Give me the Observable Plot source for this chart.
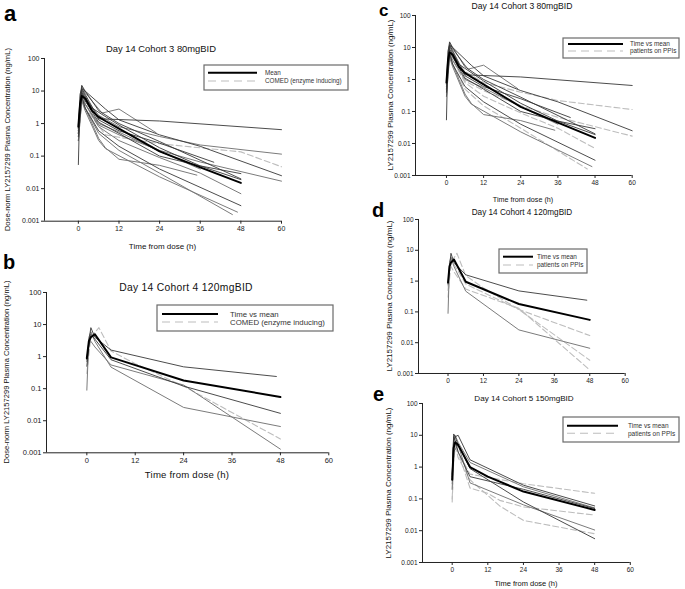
<!DOCTYPE html>
<html><head><meta charset="utf-8">
<script src="https://cdn.jsdelivr.net/npm/d3@7"></script>
<script src="https://cdn.jsdelivr.net/npm/@observablehq/plot@0.6"></script>
<style>
body{margin:0;background:#fff;}
#fig{position:relative;width:685px;height:589px;overflow:hidden;font-family:"Liberation Sans",Arial,sans-serif;}
#fig svg{position:absolute;overflow:visible;}
</style></head>
<body><div id="fig"></div>
<script>
// ---------- axis ticks ----------
const xTicks = [0, 12, 24, 36, 48, 60];
const yTicks = [0.001, 0.01, 0.1, 1, 10, 100];

// ---------- Cohort 3 (80 mg BID) individual profiles: panels a & c ----------
const c3Times = [
  [0,1,2,6,24,60],
  [0,1,2,7,12,23],
  [0,0.5,1,2,6,12,24,48],
  [0,1,2,6,12,24,36,60],
  [0,1,2,8,12,24,48,60],
  [0,1,2,6,12,24,36,60],
  [0,1,2,6,12,24,36,48],
  [0,1,2,6,12,24,36,48],
  [0,1,2,6,12,24,48],
  [0,1,2,6,8,24,47],
  [0,1,2,4,12,24,36,48],
  [0,1,2,6,12,24,45.5],
  [0,1,2,6,12,24,40],
  [0,1,2,6,8,12,24,35],
  [0,0.5,1,2,8,12,24,36,60],
  [0,0.5,1,2,6,12,24,36]
];
const c3Conc = [
  [0.5,12,8,1.4,1.2,0.65],
  [0.8,14,9,2.1,2.8,0.52],
  [0.9,6,15,10,2.5,1.0,0.28,0.02],
  [0.5,10,6,1.8,0.8,0.4,0.22,0.115],
  [0.3,5,3,0.45,0.38,0.24,0.135,0.047],
  [0.4,6,4,0.9,0.45,0.15,0.066,0.017],
  [0.6,8,5,1.1,0.5,0.1,0.05,0.029],
  [0.5,9,4,0.8,0.3,0.09,0.03,0.007],
  [0.4,7,3,0.6,0.2,0.04,0.003],
  [0.3,5,2.5,0.3,0.17,0.023,0.0019],
  [0.7,11,7,3,0.9,0.18,0.05,0.019],
  [0.5,6,3,0.5,0.15,0.03,0.0016],
  [0.6,9,6,1.3,0.6,0.25,0.065],
  [0.3,6,3,0.35,0.18,0.08,0.052,0.026],
  [0.055,8,12,10,2.8,1.3,0.45,0.2,0.025],
  [0.7,4,6,4,1.0,0.55,0.14,0.04]
];
const c3MeanT = [0,0.5,1,2,4,6,8,12,24,36,48];
const c3MeanC = [0.8,4,7,6,2.5,1.6,1.2,0.7,0.14,0.045,0.015];
const c3Comed = [4];          // index of COMED (enzyme inducing) patient, panel a
const c3Ppi = [3,5,7,11];     // indices of patients on PPIs, panel c
const c3NotInC = [4];

// ---------- Cohort 4 (120 mg BID): panels b & d ----------
const c4Times = [
  [0,0.5,1,2,6,24,47],
  [0,0.5,1,2,6,24,48],
  [0,0.5,1,2,6,24,48],
  [0,0.5,1,2,6,24,48],
  [0,1,3,6,12,24,48]
];
const c4Conc = [
  [0.8,3,8,4,1.6,0.48,0.24],
  [0.09,4,6,3,0.47,0.026,0.0066],
  [0.5,2,5,3.5,0.8,0.12,0.017],
  [0.7,2.5,3,2,0.55,0.13,0.0013],
  [0.3,4,8,1.5,0.6,0.12,0.0027]
];
const c4MeanT = [0,0.5,1,2,6,24,48];
const c4MeanC = [0.9,3,4,5,0.95,0.18,0.055];
const c4Comed = [4];
const c4Ppi = [2,3,4];

// ---------- Cohort 5 (150 mg BID): panel e ----------
const c5Times = [
  [0,0.5,1,2,6,24,48],
  [0,0.5,1,2,6,24,48],
  [0,0.5,1,2,6,24,48],
  [0,0.5,2,6,24,48],
  [0,0.5,1,2,6,24,48],
  [0,0.5,1,2,6,24,48],
  [0,0.5,1,2,6,12,16,24,48],
  [0,0.5,1,2,6,16,24,48]
];
const c5Conc = [
  [0.5,11,9,10,1.7,0.27,0.06],
  [0.3,8,10,6,1.4,0.24,0.052],
  [0.4,6,9,5,0.9,0.08,0.0056],
  [0.2,3,5,0.32,0.065,0.0105],
  [0.6,9,7,3,0.5,0.2,0.05],
  [0.08,1.5,4,3,0.6,0.3,0.15],
  [0.1,2,6,3,0.22,0.15,0.09,0.056,0.031],
  [0.2,2,5,2,0.4,0.06,0.021,0.008]
];
const c5MeanT = [0,0.5,1,2,6,12,24,48];
const c5MeanC = [0.4,4,6,5,1.0,0.5,0.17,0.045];
const c5Ppi = [5,6,7];

// ---------- text ----------
const titles = ["Day 14 Cohort 3 80mgBID","Day 14 Cohort 4 120mgBID","Day 14 Cohort 3 80mgBID","Day 14 Cohort 4 120mgBID","Day 14 Cohort 5 150mgBID"];
const xTitle = "Time from dose (h)";
const yTitleNorm = "Dose-norm LY2157299 Plasma Concentration (ng/mL)";
const yTitle = "LY2157299 Plasma Concentration (ng/mL)";

// ---------- build rows ----------
function rows(times, concs, kindOf) {
  const out = [];
  times.forEach((ts, i) => {
    const k = kindOf(i);
    if (!k) return;
    ts.forEach((t, j) => out.push({id: i, t, c: concs[i][j], kind: k}));
  });
  return out;
}
function meanRows(ts, cs) { return ts.map((t, j) => ({id: "mean", t, c: cs[j]})); }
const tone = i => (i % 2 ? "grey" : "dark");

const panels = [
  {fx0:44, fx1:281, fy0:58.3, fy1:221, tick:7,
   data: rows(c3Times, c3Conc, i => c3Comed.includes(i) ? "dash" : tone(i)), mean: meanRows(c3MeanT, c3MeanC)},
  {fx0:45.7, fx1:328, fy0:291.7, fy1:452, tick:7.5,
   data: rows(c4Times, c4Conc, i => c4Comed.includes(i) ? "dash" : tone(i)), mean: meanRows(c4MeanT, c4MeanC)},
  {fx0:415, fx1:631.7, fy0:15, fy1:175, tick:6.5,
   data: rows(c3Times, c3Conc, i => c3NotInC.includes(i) ? null : c3Ppi.includes(i) ? "dash" : tone(i)), mean: meanRows(c3MeanT, c3MeanC)},
  {fx0:418.3, fx1:625, fy0:219.3, fy1:373.3, tick:6.5,
   data: rows(c4Times, c4Conc, i => c4Ppi.includes(i) ? "dash" : tone(i)), mean: meanRows(c4MeanT, c4MeanC)},
  {fx0:421.5, fx1:629.3, fy0:403.3, fy1:562.3, tick:6.5,
   data: rows(c5Times, c5Conc, i => c5Ppi.includes(i) ? "dash" : tone(i)), mean: meanRows(c5MeanT, c5MeanC)}
];

const fig = document.getElementById("fig");
const FONT = "Liberation Sans, Arial, sans-serif";

panels.forEach(p => {
  const ml = 34, mr = 4, mt = 4, mb = 16;
  const W = p.fx1 - p.fx0 + ml + mr, H = p.fy1 - p.fy0 + mt + mb;
  const svg = Plot.plot({
    width: W, height: H,
    marginLeft: ml, marginRight: mr, marginTop: mt, marginBottom: mb,
    style: {fontFamily: FONT, fontSize: p.tick + "px", background: "transparent", color: "#222"},
    x: {domain: [-10, 60], ticks: xTicks, tickSize: 3, tickPadding: 2, label: null},
    y: {type: "log", domain: [0.001, 100], ticks: yTicks, tickSize: 3, tickPadding: 2, tickFormat: d => String(d), label: null},
    marks: [
      Plot.line(p.data.filter(d => d.kind === "dash"), {x: "t", y: "c", z: "id", stroke: "#bdbdbd", strokeWidth: 1.1, strokeDasharray: "6,3"}),
      Plot.line(p.data.filter(d => d.kind === "grey"), {x: "t", y: "c", z: "id", stroke: "#7a7a7a", strokeWidth: 1}),
      Plot.line(p.data.filter(d => d.kind === "dark"), {x: "t", y: "c", z: "id", stroke: "#383838", strokeWidth: 0.9}),
      Plot.line(p.mean, {x: "t", y: "c", stroke: "#000", strokeWidth: 2}),
      Plot.ruleX([-10], {stroke: "#222"}),
      Plot.ruleY([0.001], {stroke: "#222"})
    ]
  });
  svg.style.left = (p.fx0 - ml) + "px";
  svg.style.top = (p.fy0 - mt) + "px";
  fig.appendChild(svg);
});

// ---------- overlay: letters, titles, axis titles, legends ----------
const ov = d3.create("svg").attr("width", 685).attr("height", 589)
  .style("left", "0px").style("top", "0px").style("font-family", FONT);
function txt(x, y, s, size, opts = {}) {
  const t = ov.append("text").attr("x", x).attr("y", y).attr("font-size", size).attr("fill", opts.fill || "#111")
    .attr("text-anchor", opts.anchor || "start").text(s);
  if (opts.bold) t.attr("font-weight", "bold");
  if (opts.rot) t.attr("transform", `rotate(-90,${x},${y})`);
  if (opts.ls) t.attr("letter-spacing", opts.ls);
  return t;
}
// panel letters
txt(4, 20.5, "a", 22, {bold: true, fill: "#000"});
txt(3, 269, "b", 20, {bold: true, fill: "#000"});
txt(379, 15.5, "c", 17, {bold: true, fill: "#000"});
txt(372, 217, "d", 20, {bold: true, fill: "#000"});
txt(373, 401, "e", 20, {bold: true, fill: "#000"});
// titles
txt(161, 52, titles[0], 9.4, {anchor: "middle"});
txt(186, 291, titles[1], 10.3, {anchor: "middle", ls: 0.3});
txt(522, 9, titles[2], 8.6, {anchor: "middle"});
txt(522, 214.5, titles[3], 8.2, {anchor: "middle"});
txt(524, 400.5, titles[4], 8.1, {anchor: "middle"});
// x-axis titles
txt(162.5, 249, xTitle, 8, {anchor: "middle"});
txt(187, 478, xTitle, 9.6, {anchor: "middle", ls: 0.2});
txt(523, 201.5, xTitle, 7.2, {anchor: "middle"});
txt(526, 586, xTitle, 7.5, {anchor: "middle"});
// y-axis titles
txt(10, 139.6, yTitleNorm, 7.6, {anchor: "middle", rot: true});
txt(9, 372, yTitleNorm, 7.6, {anchor: "middle", rot: true});
txt(393, 95, yTitle, 8, {anchor: "middle", rot: true});
txt(392, 296, yTitle, 8, {anchor: "middle", rot: true});
txt(391, 483, yTitle, 8, {anchor: "middle", rot: true});
// legends
function legend(x0, y0, x1, y1, lx0, lx1, ly1, ly2, tx, l1, l2, fs) {
  ov.append("rect").attr("x", x0).attr("y", y0).attr("width", x1 - x0).attr("height", y1 - y0)
    .attr("fill", "#fff").attr("stroke", "#6a6a6a").attr("stroke-width", 1.2);
  ov.append("line").attr("x1", lx0).attr("x2", lx1).attr("y1", ly1).attr("y2", ly1).attr("stroke", "#000").attr("stroke-width", 2);
  ov.append("line").attr("x1", lx0).attr("x2", lx1).attr("y1", ly2).attr("y2", ly2).attr("stroke", "#bdbdbd").attr("stroke-width", 1.1).attr("stroke-dasharray", "8,5");
  txt(tx, ly1 + fs * 0.35, l1, fs, {fill: "#333"});
  txt(tx, ly2 + fs * 0.35, l2, fs, {fill: "#333"});
}
legend(204, 65, 348, 90, 208, 257, 72.7, 81, 265, "Mean", "COMED (enzyme inducing)", 6.3);
legend(157, 305, 333, 331, 162, 218, 314, 322, 230, "Time vs mean", "COMED (enzyme inducing)", 7.8);
legend(563, 38, 679, 58, 568, 623, 44, 51, 630, "Time vs mean", "patients on PPIs", 6.4);
legend(499, 249, 587, 273, 503, 533, 256.7, 265, 537, "Time vs mean", "patients on PPIs", 6.4);
legend(563, 417, 679, 442, 567, 618, 425.7, 433.3, 628, "Time vs mean", "patients on PPIs", 6.5);
fig.appendChild(ov.node());
</script>
</body></html>
